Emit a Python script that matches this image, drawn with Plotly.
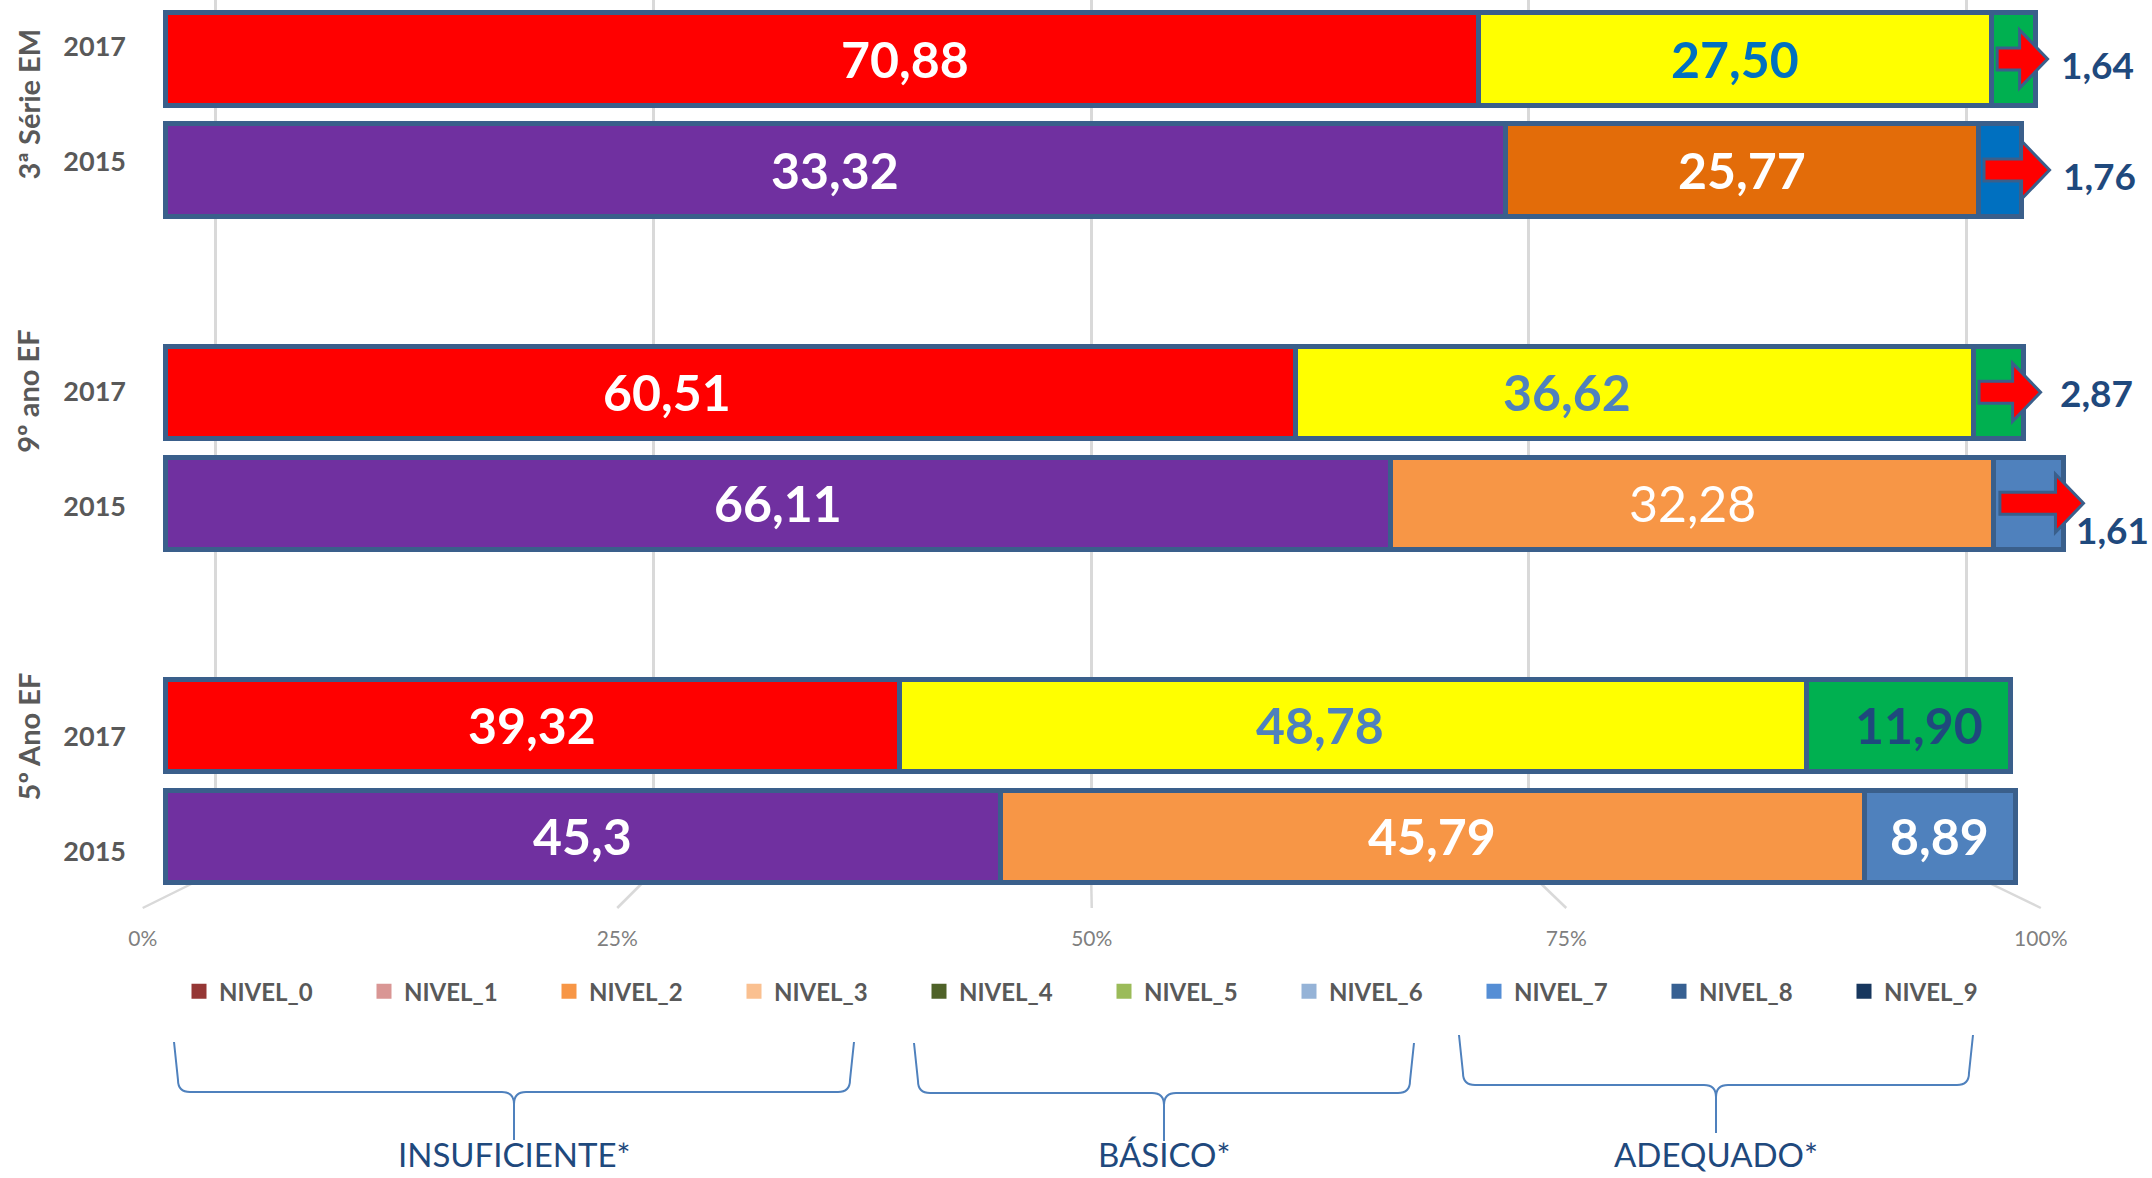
import plotly.graph_objects as go

W, H = 2152, 1178

# ---------------- data ----------------
groups = ["3ª Série EM", "9º ano EF", "5º Ano EF"]
years = ["2017", "2015"]

# segment lengths as drawn in the picture (% of the bar scale), rows: 3ª 2017, 3ª 2015, 9º 2017, 9º 2015, 5º 2017, 5º 2015
seg1_len = [71.15, 72.61, 61.23, 66.43, 39.79, 45.25]
seg2_len = [27.80, 25.63, 36.74, 32.67, 49.17, 46.82]
seg3_len = [2.41, 2.36, 2.74, 3.77, 11.04, 8.21]

# values printed on the bars
seg1_lbl = ["70,88", "33,32", "60,51", "66,11", "39,32", "45,3"]
seg2_lbl = ["27,50", "25,77", "36,62", "32,28", "48,78", "45,79"]
seg3_lbl = ["1,64", "1,76", "2,87", "1,61", "11,90", "8,89"]

pct_ticks = [0, 25, 50, 75, 100]
pct_text = ["0%", "25%", "50%", "75%", "100%"]

levels = ["NIVEL_0", "NIVEL_1", "NIVEL_2", "NIVEL_3", "NIVEL_4",
          "NIVEL_5", "NIVEL_6", "NIVEL_7", "NIVEL_8", "NIVEL_9"]
bands = ["INSUFICIENTE*", "BÁSICO*", "ADEQUADO*"]

# ---------------- styles ----------------
RED, YEL, GRN, PUR = "#FF0000", "#FFFF00", "#00B050", "#7030A0"
EDGE = "#3A5F8B"
NAVY = "#1F497D"
GRAY = "#595959"
FONT = "Lato"

seg1_col = [RED, PUR, RED, PUR, RED, PUR]
seg2_col = [YEL, "#E36C09", YEL, "#F79646", YEL, "#F79646"]
seg3_col = [GRN, "#0070C0", GRN, "#4F81BD", GRN, "#4F81BD"]
lbl1_col = ["#FFFFFF"] * 6
lbl2_col = ["#0070C0", "#FFFFFF", "#4F81BD", "#FFFFFF", "#4F81BD", "#FFFFFF"]
lbl2_wt = ["bold", "bold", "bold", "normal", "bold", "bold"]
lbl3_col = [NAVY, NAVY, NAVY, NAVY, NAVY, "#FFFFFF"]
seg3_outside = [True, True, True, True, False, False]
lbl1_dx = [83, 0, -63, 0, 0, 0]
lbl2_dx = [0, 0, -67, 0, -33, 0]
lbl3_dx = [0, 0, 0, 0, 10, 0]
arrow_tip = [12, 28, 17, 20, 0, 0]      # px beyond bar end
out_dx = [11, 11, 17, -9, 0, 0]         # label gap after arrow tip
out_dy = [-5, -5, 0, -26, 0, 0]
level_cols = ["#953735", "#D99694", "#F79646", "#FAC090", "#4F6228",
              "#9BBB59", "#95B3D7", "#558ED5", "#376092", "#17375E"]
group_label_off = [0.5, 0.0, 0.0]

# axis pixel mappings (origin px, px per unit)
GX0, GK = 215.5, 17.511     # gridline axis
BX0, BK = 165.0, 18.455     # bar axis
TX0, TK = 142.7, 18.981     # tick-label (floor front) axis
BY0, BYK = 59.0, 111.07     # bar rows
LY0, LYK = 47.0, 114.9      # row labels
GRID_BOTTOM, FLOOR_FRONT = 872, 908


def xrange_for(x0, k):
    lo = -x0 / k
    return [lo, lo + W / k]


def yrange_for(y0, k):
    return [(H - y0) / k, -y0 / k]


def px_to_paper(px, py):
    return px / W, 1 - py / H


# rows
rows, row_year, row_group = [], [], []
for g, _ in enumerate(groups):
    for k, yr in enumerate(years):
        rows.append(g * (len(years) + 1) + k)
        row_year.append(yr)
        row_group.append(g)

fig = go.Figure()

# legend-only entries
for name, col in zip(levels, level_cols):
    fig.add_trace(go.Scatter(x=[None], y=[None], name=name, mode="markers",
                             marker=dict(symbol="square", size=15, color=col),
                             xaxis="x", yaxis="y", showlegend=True, hoverinfo="skip"))

# stacked bars
for lens, cols in [(seg1_len, seg1_col), (seg2_len, seg2_col), (seg3_len, seg3_col)]:
    fig.add_trace(go.Bar(x=lens, y=rows, orientation="h", xaxis="x2", yaxis="y2",
                         width=0.83, showlegend=False, hoverinfo="skip",
                         marker=dict(color=cols, line=dict(color=EDGE, width=5))))

# dummy for label axes
fig.add_trace(go.Scatter(x=[None], y=[None], xaxis="x3", yaxis="y3",
                         showlegend=False, hoverinfo="skip"))

annotations = []
shapes = []

for i, pos in enumerate(rows):
    a, b, c = seg1_len[i], seg2_len[i], seg3_len[i]
    end = a + b + c
    annotations.append(dict(x=a / 2, y=pos, xref="x2", yref="y2", text=seg1_lbl[i],
                            showarrow=False, xshift=lbl1_dx[i],
                            xanchor="center", yanchor="middle",
                            font=dict(family=FONT, size=50, color=lbl1_col[i], weight="bold")))
    annotations.append(dict(x=a + b / 2, y=pos, xref="x2", yref="y2", text=seg2_lbl[i],
                            showarrow=False, xshift=lbl2_dx[i],
                            xanchor="center", yanchor="middle",
                            font=dict(family=FONT, size=50, color=lbl2_col[i], weight=lbl2_wt[i])))
    if seg3_outside[i]:
        seg_px = c * BK
        tail = -seg_px + 6
        tip = arrow_tip[i]
        base = tip - 28
        s, h = 11, 29
        path = (f"M{tail},{-s} L{base},{-s} L{base},{-h} L{tip},0 "
                f"L{base},{h} L{base},{s} L{tail},{s} Z")
        shapes.append(dict(type="path", xref="x2", yref="y2", xsizemode="pixel",
                           ysizemode="pixel", xanchor=end, yanchor=pos, path=path,
                           fillcolor=RED, line=dict(color=EDGE, width=3), layer="above"))
        annotations.append(dict(x=end, y=pos, xref="x2", yref="y2", text=seg3_lbl[i],
                                showarrow=False, xanchor="left", yanchor="middle",
                                xshift=tip + out_dx[i], yshift=out_dy[i],
                                font=dict(family=FONT, size=37, color=NAVY, weight="bold")))
    else:
        annotations.append(dict(x=a + b + c / 2, y=pos, xref="x2", yref="y2", text=seg3_lbl[i],
                                showarrow=False, xshift=lbl3_dx[i],
                                xanchor="center", yanchor="middle",
                                font=dict(family=FONT, size=50, color=lbl3_col[i], weight="bold")))

# group labels (rotated)
for g, name in enumerate(groups):
    first = g * (len(years) + 1)
    annotations.append(dict(x=28 / W, xref="paper", y=first + group_label_off[g], yref="y3",
                            xanchor="center", yanchor="middle",
                            text=name, textangle=-90, showarrow=False,
                            font=dict(family=FONT, size=29, color=GRAY, weight="bold")))

# floor (slanted) gridline segments
for v in pct_ticks:
    front_px = TX0 + v * TK
    front_val = (front_px - GX0) / GK
    _, yb = px_to_paper(0, GRID_BOTTOM)
    _, yf = px_to_paper(0, FLOOR_FRONT)
    shapes.append(dict(type="line", xref="x", yref="paper", x0=v, x1=front_val,
                       y0=yb, y1=yf, line=dict(color="#D9D9D9", width=2.5), layer="below"))

# braces
brace_geo = [  # L, R, top, horizontal, mid, tip (px)
    (174, 854, 1042, 1092, 514, 1140),
    (914, 1414, 1043, 1093, 1164, 1141),
    (1459, 1973, 1035, 1085, 1716, 1133),
]
r = 12
for (L, R, T, Hh, M, P), label in zip(brace_geo, bands):
    pts = [("M", L, T), ("L", L + 4, Hh - r), ("Q", L + 4, Hh, L + 4 + r, Hh),
           ("L", M - r, Hh), ("Q", M, Hh, M, Hh + r), ("L", M, P),
           ("L", M, Hh + r), ("Q", M, Hh, M + r, Hh), ("L", R - 4 - r, Hh),
           ("Q", R - 4, Hh, R - 4, Hh - r), ("L", R, T)]
    parts = []
    for p in pts:
        cmd = p[0]
        coords = p[1:]
        xy = []
        for j in range(0, len(coords), 2):
            px, py = px_to_paper(coords[j], coords[j + 1])
            xy.append(f"{px:.5f},{py:.5f}")
        parts.append(cmd + " ".join(xy))
    shapes.append(dict(type="path", xref="paper", yref="paper", path=" ".join(parts),
                       line=dict(color="#4F81BD", width=2)))
    tx, ty = px_to_paper(M, 1154)
    annotations.append(dict(x=tx, y=ty, xref="paper", yref="paper", text=label,
                            showarrow=False, xanchor="center", yanchor="middle",
                            font=dict(family=FONT, size=33, color=NAVY)))

fig.update_layout(
    width=W, height=H, autosize=False,
    margin=dict(l=0, r=0, t=0, b=0, pad=0),
    paper_bgcolor="white", plot_bgcolor="rgba(0,0,0,0)",
    barmode="stack", bargap=0,
    showlegend=True,
    legend=dict(orientation="h", x=179 / W, xanchor="left",
                y=1 - 991.7 / H, yanchor="middle", traceorder="normal",
                entrywidth=140, entrywidthmode="pixels",
                font=dict(family=FONT, size=24, color=GRAY, weight="bold"),
                bgcolor="rgba(0,0,0,0)", itemclick=False, itemdoubleclick=False),
    xaxis=dict(domain=[0, 1], range=xrange_for(GX0, GK), anchor="y",
               tickvals=pct_ticks, showticklabels=False, showgrid=True,
               gridcolor="#D9D9D9", gridwidth=3, zeroline=False, showline=False,
               fixedrange=True),
    yaxis=dict(domain=[1 - GRID_BOTTOM / H, 1], range=[0, 1], anchor="x",
               showgrid=False, showticklabels=False, zeroline=False, showline=False,
               fixedrange=True),
    xaxis2=dict(domain=[0, 1], range=xrange_for(BX0, BK), anchor="y2",
                showgrid=False, showticklabels=False, zeroline=False, showline=False,
                fixedrange=True),
    yaxis2=dict(domain=[0, 1], range=yrange_for(BY0, BYK), anchor="x2",
                showgrid=False, showticklabels=False, zeroline=False, showline=False,
                fixedrange=True),
    xaxis3=dict(domain=[0, 1], range=xrange_for(TX0, TK), anchor="free",
                position=1 - 924 / H, tickvals=pct_ticks, ticktext=pct_text,
                showgrid=False, zeroline=False, showline=False, ticks="",
                tickfont=dict(family=FONT, size=21, color="#7F7F7F"), fixedrange=True),
    yaxis3=dict(domain=[0, 1], range=yrange_for(LY0, LYK), anchor="free",
                position=126 / W, tickvals=rows, ticktext=row_year,
                showgrid=False, zeroline=False, showline=False, ticks="",
                tickfont=dict(family=FONT, size=27, color=GRAY, weight="bold"),
                fixedrange=True),
    annotations=annotations,
    shapes=shapes,
)

fig.write_html("out.html", config={"displayModeBar": False, "staticPlot": True},
               post_script="document.body.style.margin='0';document.body.style.overflow='hidden';")
